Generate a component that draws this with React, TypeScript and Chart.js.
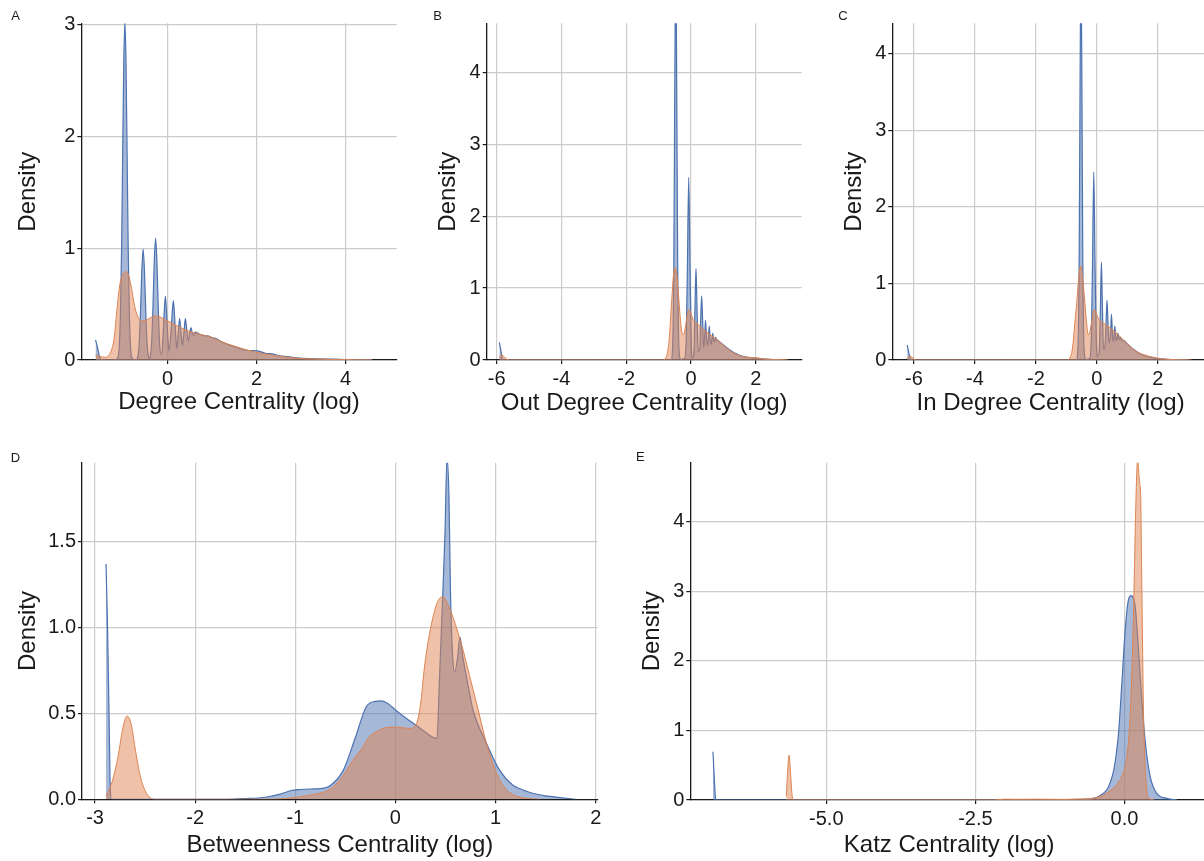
import React, { useEffect, useRef } from "react";
import { Chart, registerables } from "chart.js";

Chart.register(...registerables);

const BLUE = "#4c72b0";
const ORANGE = "#dd8452";
const BLUE_FILL = "rgba(76,114,176,0.5)";
const ORANGE_FILL = "rgba(221,132,82,0.5)";
const FONT = "'Liberation Sans', Arial, Helvetica, sans-serif";

// ---------- Panel A: Degree Centrality (log) ----------
const degreeBlue: [number, number][] = [
  [-1.62, 0.18], [-1.58, 0.12], [-1.53, 0.03], [-1.48, 0.0], [-1.35, 0.0], [-1.2, 0.0],
  [-1.12, 0.02], [-1.09, 0.1], [-1.06, 0.41], [-1.035, 0.98], [-1.01, 1.83], [-0.985, 2.66],
  [-0.96, 3.02], [-0.935, 2.66], [-0.91, 1.83], [-0.885, 0.98], [-0.86, 0.41], [-0.83, 0.1],
  [-0.8, 0.02], [-0.72, 0.0], [-0.67, 0.03], [-0.64, 0.14], [-0.61, 0.42], [-0.58, 0.8],
  [-0.55, 0.99], [-0.52, 0.8], [-0.49, 0.42], [-0.46, 0.14], [-0.43, 0.03], [-0.41, 0.01],
  [-0.39, 0.03], [-0.36, 0.15], [-0.33, 0.46], [-0.3, 0.88], [-0.27, 1.09], [-0.24, 0.88],
  [-0.21, 0.46], [-0.18, 0.15], [-0.15, 0.05], [-0.12, 0.1], [-0.09, 0.32], [-0.05, 0.57],
  [-0.01, 0.32], [0.03, 0.08], [0.08, 0.28], [0.13, 0.53], [0.17, 0.3], [0.21, 0.1],
  [0.24, 0.24], [0.27, 0.37], [0.3, 0.26], [0.335, 0.13], [0.37, 0.26], [0.4, 0.37],
  [0.43, 0.27], [0.465, 0.17], [0.5, 0.25], [0.525, 0.29], [0.555, 0.24], [0.585, 0.22],
  [0.62, 0.25], [0.7, 0.235], [0.8, 0.22], [0.9, 0.215], [1.0, 0.2], [1.1, 0.19],
  [1.2, 0.165], [1.35, 0.14], [1.5, 0.12], [1.65, 0.1], [1.8, 0.085], [1.95, 0.085],
  [2.05, 0.08], [2.2, 0.06], [2.35, 0.055], [2.5, 0.04], [2.7, 0.03], [2.9, 0.02],
  [3.2, 0.012], [3.6, 0.008], [3.75, 0.009], [4.0, 0.003], [4.4, 0.002], [4.6, 0.0],
];
const degreeOrange: [number, number][] = [
  [-1.62, 0.045], [-1.5, 0.03], [-1.41, 0.024], [-1.33, 0.04], [-1.26, 0.09], [-1.2, 0.2],
  [-1.16, 0.36], [-1.08, 0.66], [-1.0, 0.77], [-0.93, 0.79], [-0.87, 0.75], [-0.81, 0.64],
  [-0.75, 0.5], [-0.7, 0.42], [-0.64, 0.37], [-0.59, 0.35], [-0.5, 0.355], [-0.44, 0.365],
  [-0.35, 0.385], [-0.27, 0.394], [-0.17, 0.385], [-0.06, 0.36], [0.1, 0.33], [0.24, 0.3],
  [0.4, 0.27], [0.61, 0.24], [0.8, 0.222], [0.97, 0.205], [1.15, 0.175], [1.35, 0.143],
  [1.55, 0.118], [1.72, 0.096], [1.9, 0.078], [2.1, 0.06], [2.3, 0.047], [2.47, 0.036],
  [2.65, 0.027], [2.85, 0.018], [3.1, 0.012], [3.4, 0.008], [3.8, 0.004], [4.2, 0.002],
  [4.6, 0.0],
];
const degreeXTicks = [0, 2, 4];
const degreeXLabels = ["0", "2", "4"];
const degreeYTicks = [0, 1, 2, 3];
const degreeYLabels = ["0", "1", "2", "3"];

// ---------- Panel B: Out Degree Centrality (log) ----------
const outBlue: [number, number][] = [
  [-5.92, 0.245], [-5.88, 0.15], [-5.84, 0.05], [-5.8, 0.0], [-3.0, 0.0], [-0.62, 0.0],
  [-0.57, 0.15], [-0.53, 1.3], [-0.5, 3.8], [-0.47, 5.6], [-0.44, 3.8], [-0.41, 1.3],
  [-0.37, 0.15], [-0.32, 0.01], [-0.2, 0.02], [-0.15, 0.25], [-0.11, 1.3], [-0.07, 2.54],
  [-0.03, 1.3], [0.01, 0.25], [0.05, 0.03], [0.09, 0.1], [0.125, 0.75], [0.155, 1.27],
  [0.185, 0.75], [0.22, 0.12], [0.27, 0.15], [0.3, 0.55], [0.33, 0.89], [0.36, 0.55],
  [0.39, 0.17], [0.42, 0.3], [0.45, 0.555], [0.48, 0.3], [0.51, 0.2], [0.54, 0.3],
  [0.565, 0.47], [0.59, 0.3], [0.62, 0.22], [0.645, 0.28], [0.67, 0.37], [0.7, 0.28],
  [0.725, 0.25], [0.745, 0.29], [0.765, 0.315], [0.79, 0.28], [0.85, 0.265], [1.0, 0.21],
  [1.2, 0.14], [1.4, 0.085], [1.6, 0.05], [1.8, 0.035], [2.0, 0.025], [2.3, 0.012],
  [2.6, 0.005], [2.9, 0.0],
];
const outOrange: [number, number][] = [
  [-5.92, 0.03], [-5.86, 0.07], [-5.78, 0.05], [-5.7, 0.015], [-5.6, 0.0], [-3.0, 0.0],
  [-0.85, 0.0], [-0.78, 0.03], [-0.72, 0.12], [-0.67, 0.3], [-0.6, 0.79], [-0.54, 1.18],
  [-0.49, 1.29], [-0.44, 1.18], [-0.39, 0.93], [-0.33, 0.58], [-0.27, 0.37], [-0.22, 0.36],
  [-0.15, 0.52], [-0.1, 0.66], [-0.06, 0.7], [-0.02, 0.67], [0.07, 0.56], [0.23, 0.49],
  [0.48, 0.39], [0.79, 0.29], [1.1, 0.165], [1.41, 0.075], [1.7, 0.04], [2.0, 0.03],
  [2.3, 0.014], [2.6, 0.006], [3.0, 0.0],
];
const outXTicks = [-6, -4, -2, 0, 2];
const outXLabels = ["-6", "-4", "-2", "0", "2"];
const outYTicks = [0, 1, 2, 3, 4];
const outYLabels = ["0", "1", "2", "3", "4"];

// ---------- Panel C: In Degree Centrality (log) ----------
const inBlue: [number, number][] = [
  [-6.22, 0.196], [-6.17, 0.1], [-6.12, 0.02], [-6.05, 0.0], [-3.0, 0.0], [-0.68, 0.0],
  [-0.62, 0.15], [-0.58, 1.3], [-0.55, 3.6], [-0.52, 5.2], [-0.49, 3.6], [-0.46, 1.3],
  [-0.42, 0.15], [-0.36, 0.01], [-0.24, 0.02], [-0.18, 0.3], [-0.14, 1.3], [-0.1, 2.46],
  [-0.06, 1.3], [-0.02, 0.3], [0.03, 0.05], [0.08, 0.12], [0.12, 0.75], [0.15, 1.28],
  [0.18, 0.75], [0.22, 0.14], [0.27, 0.2], [0.305, 0.5], [0.335, 0.78], [0.365, 0.5],
  [0.4, 0.22], [0.45, 0.35], [0.48, 0.6], [0.51, 0.35], [0.54, 0.24], [0.565, 0.3],
  [0.59, 0.444], [0.62, 0.3], [0.645, 0.25], [0.67, 0.3], [0.69, 0.35], [0.715, 0.29],
  [0.745, 0.27], [0.77, 0.3], [0.8, 0.27], [0.9, 0.25], [1.0, 0.21], [1.2, 0.14],
  [1.4, 0.085], [1.6, 0.055], [1.8, 0.035], [2.0, 0.02], [2.3, 0.01], [2.6, 0.004],
  [3.0, 0.0],
];
const inOrange: [number, number][] = [
  [-6.22, 0.02], [-6.15, 0.05], [-6.07, 0.04], [-6.0, 0.01], [-5.9, 0.0], [-3.0, 0.0],
  [-0.95, 0.0], [-0.88, 0.03], [-0.82, 0.1], [-0.77, 0.26], [-0.7, 0.58], [-0.66, 0.74],
  [-0.6, 1.05], [-0.53, 1.23], [-0.47, 1.08], [-0.41, 0.83], [-0.34, 0.5], [-0.28, 0.33],
  [-0.22, 0.38], [-0.17, 0.5], [-0.08, 0.66], [-0.03, 0.62], [0.05, 0.545], [0.32, 0.457],
  [0.65, 0.35], [0.98, 0.218], [1.31, 0.109], [1.75, 0.044], [2.29, 0.01], [2.7, 0.003],
  [3.1, 0.0],
];
const inXTicks = [-6, -4, -2, 0, 2];
const inXLabels = ["-6", "-4", "-2", "0", "2"];
const inYTicks = [0, 1, 2, 3, 4];
const inYLabels = ["0", "1", "2", "3", "4"];

// ---------- Panel D: Betweenness Centrality (log) ----------
const betweenBlue: [number, number][] = [
  [-2.89, 1.37], [-2.875, 1.0], [-2.86, 0.5], [-2.85, 0.12], [-2.84, 0.0], [-1.7, 0.0],
  [-1.5, 0.004], [-1.3, 0.012], [-1.15, 0.03], [-1.05, 0.05], [-0.95, 0.057], [-0.85, 0.06],
  [-0.75, 0.062], [-0.65, 0.08], [-0.52, 0.17], [-0.4, 0.36], [-0.29, 0.54], [-0.2, 0.57],
  [-0.14, 0.573], [-0.07, 0.555], [0.0, 0.52], [0.1, 0.475], [0.21, 0.43], [0.3, 0.39],
  [0.38, 0.36], [0.415, 0.355], [0.44, 0.7], [0.47, 1.15], [0.495, 1.55], [0.515, 1.99],
  [0.535, 1.75], [0.55, 1.2], [0.57, 0.85], [0.59, 0.74], [0.62, 0.82], [0.645, 0.945],
  [0.67, 0.84], [0.72, 0.68], [0.775, 0.52], [0.91, 0.325], [1.04, 0.17], [1.17, 0.083],
  [1.25, 0.06], [1.37, 0.035], [1.5, 0.02], [1.64, 0.01], [1.8, 0.0],
];
const betweenOrange: [number, number][] = [
  [-2.89, 0.02], [-2.83, 0.1], [-2.77, 0.25], [-2.72, 0.42], [-2.68, 0.485], [-2.64, 0.44],
  [-2.6, 0.3], [-2.55, 0.14], [-2.5, 0.05], [-2.45, 0.01], [-2.4, 0.0], [-1.3, 0.0],
  [-1.1, 0.004], [-0.95, 0.015], [-0.8, 0.03], [-0.7, 0.045], [-0.62, 0.073], [-0.52, 0.14],
  [-0.42, 0.23], [-0.33, 0.3], [-0.26, 0.364], [-0.17, 0.4], [-0.09, 0.418], [0.0, 0.42],
  [0.14, 0.413], [0.21, 0.44], [0.25, 0.55], [0.29, 0.77], [0.33, 0.93], [0.375, 1.06],
  [0.42, 1.15], [0.475, 1.18], [0.52, 1.14], [0.575, 1.06], [0.625, 0.97], [0.675, 0.87],
  [0.74, 0.72], [0.81, 0.56], [0.91, 0.325], [1.01, 0.15], [1.11, 0.054], [1.2, 0.02],
  [1.31, 0.005], [1.45, 0.0],
];
const betweenXTicks = [-3, -2, -1, 0, 1, 2];
const betweenXLabels = ["-3", "-2", "-1", "0", "1", "2"];
const betweenYTicks = [0, 0.5, 1, 1.5];
const betweenYLabels = ["0.0", "0.5", "1.0", "1.5"];

// ---------- Panel E: Katz Centrality (log) ----------
const katzBlue: [number, number][] = [
  [-6.9, 0.695], [-6.88, 0.35], [-6.86, 0.05], [-6.85, 0.0], [-3.0, 0.0], [-0.8, 0.0],
  [-0.52, 0.02], [-0.4, 0.07], [-0.3, 0.144], [-0.24, 0.25], [-0.18, 0.43], [-0.14, 0.65],
  [-0.1, 0.96], [-0.044, 1.68], [0.012, 2.45], [0.067, 2.88], [0.112, 2.94], [0.15, 2.9],
  [0.18, 2.78], [0.235, 2.16], [0.29, 1.44], [0.35, 0.82], [0.43, 0.34], [0.54, 0.096],
  [0.71, 0.024], [0.88, 0.0],
];
const katzOrange: [number, number][] = [
  [-5.67, 0.05], [-5.645, 0.45], [-5.625, 0.647], [-5.6, 0.4], [-5.575, 0.08], [-5.55, 0.0],
  [-2.2, 0.0], [-2.0, 0.012], [-1.8, 0.01], [-1.5, 0.012], [-1.2, 0.01], [-1.0, 0.008],
  [-0.8, 0.015], [-0.6, 0.02], [-0.45, 0.04], [-0.35, 0.072], [-0.25, 0.13], [-0.156, 0.19],
  [-0.1, 0.26], [-0.044, 0.34], [0.04, 0.62], [0.08, 1.0], [0.107, 1.44], [0.15, 2.64],
  [0.185, 4.08], [0.21, 4.8], [0.222, 4.9], [0.235, 4.75], [0.255, 4.55], [0.27, 4.41],
  [0.29, 3.12], [0.32, 1.2], [0.364, 0.24], [0.42, 0.02], [0.5, 0.0],
];
const katzXTicks = [-5, -2.5, 0];
const katzXLabels = ["-5.0", "-2.5", "0.0"];
const katzYTicks = [0, 1, 2, 3, 4];
const katzYLabels = ["0", "1", "2", "3", "4"];

type Rect = { left: number; top: number; width: number; height: number };
type PlotBox = { left: number; top: number; right: number; bottom: number };

type PanelSpec = {
  letter: string;
  letterX: number;
  letterY: number;
  canvas: Rect;
  plot: PlotBox;
  xMin: number;
  xMax: number;
  yMin: number;
  yMax: number;
  xTicks: number[];
  xLabels: string[];
  yTicks: number[];
  yLabels: string[];
  xTitle: string;
  yTitleX: number;
  xTitleY: number;
  blue: [number, number][];
  orange: [number, number][];
};

const panels: PanelSpec[] = [
  {
    letter: "A", letterX: 15.5, letterY: 15,
    canvas: { left: 0, top: 0, width: 402, height: 432 },
    plot: { left: 81.3, top: 23.3, right: 396.7, bottom: 360 },
    xMin: -1.94, xMax: 5.15, yMin: 0, yMax: 3.01,
    xTicks: degreeXTicks, xLabels: degreeXLabels, yTicks: degreeYTicks, yLabels: degreeYLabels,
    xTitle: "Degree Centrality (log)", yTitleX: 28.8, xTitleY: 402,
    blue: degreeBlue, orange: degreeOrange,
  },
  {
    letter: "B", letterX: 437.7, letterY: 15.3,
    canvas: { left: 404, top: 0, width: 404, height: 432 },
    plot: { left: 486.7, top: 23.3, right: 801.7, bottom: 360 },
    xMin: -6.31, xMax: 3.42, yMin: 0, yMax: 4.68,
    xTicks: outXTicks, xLabels: outXLabels, yTicks: outYTicks, yLabels: outYLabels,
    xTitle: "Out Degree Centrality (log)", yTitleX: 448.5, xTitleY: 403,
    blue: outBlue, orange: outOrange,
  },
  {
    letter: "C", letterX: 843, letterY: 15,
    canvas: { left: 810, top: 0, width: 410, height: 432 },
    plot: { left: 892.3, top: 23.3, right: 1209, bottom: 360 },
    xMin: -6.71, xMax: 3.68, yMin: 0, yMax: 4.4,
    xTicks: inXTicks, xLabels: inXLabels, yTicks: inYTicks, yLabels: inYLabels,
    xTitle: "In Degree Centrality (log)", yTitleX: 854.7, xTitleY: 403,
    blue: inBlue, orange: inOrange,
  },
  {
    letter: "D", letterX: 15.5, letterY: 457,
    canvas: { left: 0, top: 440, width: 612, height: 421 },
    plot: { left: 82, top: 462.7, right: 597.7, bottom: 799.3 },
    xMin: -3.13, xMax: 2.02, yMin: 0, yMax: 1.96,
    xTicks: betweenXTicks, xLabels: betweenXLabels, yTicks: betweenYTicks, yLabels: betweenYLabels,
    xTitle: "Betweenness Centrality (log)", yTitleX: 28.5, xTitleY: 845,
    blue: betweenBlue, orange: betweenOrange,
  },
  {
    letter: "E", letterX: 640.3, letterY: 456,
    canvas: { left: 614, top: 440, width: 610, height: 421 },
    plot: { left: 690.3, top: 462.7, right: 1208, bottom: 800 },
    xMin: -7.28, xMax: 1.4, yMin: 0, yMax: 4.85,
    xTicks: katzXTicks, xLabels: katzXLabels, yTicks: katzYTicks, yLabels: katzYLabels,
    xTitle: "Katz Centrality (log)", yTitleX: 652, xTitleY: 845,
    blue: katzBlue, orange: katzOrange,
  },
];

const TICK_FONT = { family: FONT, size: 20 };
const TITLE_FONT = { family: FONT, size: 24, lineHeight: 1 };
const GRID_COLOR = "#cccccc";
const AXIS_COLOR = "#1a1a1a";
const TEXT_COLOR = "#1a1a1a";

function PanelChart({ spec }: { spec: PanelSpec }) {
  const ref = useRef<HTMLCanvasElement | null>(null);
  useEffect(() => {
    if (!ref.current) return;
    const { canvas, plot } = spec;
    const yAxisWidth = plot.left - canvas.left;
    const xAxisHeight = canvas.top + canvas.height - plot.bottom;
    const padTop = plot.top - canvas.top;
    const padRight = canvas.left + canvas.width - plot.right;
    const yTitlePad = spec.yTitleX - canvas.left - 12;
    const xTitlePad = canvas.top + canvas.height - spec.xTitleY - 12;

    const chart = new Chart(ref.current, {
      type: "line",
      data: {
        datasets: [
          {
            label: "Group 1",
            data: spec.blue.map(([x, y]) => ({ x, y })),
            borderColor: BLUE,
            backgroundColor: BLUE_FILL,
            borderWidth: 1.2,
            fill: "origin",
            pointRadius: 0,
            cubicInterpolationMode: "monotone",
            order: 2,
          },
          {
            label: "Group 2",
            data: spec.orange.map(([x, y]) => ({ x, y })),
            borderColor: ORANGE,
            backgroundColor: ORANGE_FILL,
            borderWidth: 1.0,
            fill: "origin",
            pointRadius: 0,
            cubicInterpolationMode: "monotone",
            order: 1,
          },
        ],
      },
      options: {
        animation: false,
        responsive: false,
        maintainAspectRatio: false,
        devicePixelRatio: 1,
        events: [],
        layout: { padding: { left: 0, top: padTop, right: padRight, bottom: 0 } },
        plugins: { legend: { display: false }, tooltip: { enabled: false } },
        scales: {
          x: {
            type: "linear",
            min: spec.xMin,
            max: spec.xMax,
            afterBuildTicks: (s: any) => {
              s.ticks = spec.xTicks.map((v) => ({ value: v }));
            },
            afterFit: (s: any) => {
              s.height = xAxisHeight;
              s.paddingLeft = 0;
              s.paddingRight = 0;
            },
            ticks: {
              callback: (v: any) => spec.xLabels[spec.xTicks.indexOf(Number(v))] ?? "",
              font: TICK_FONT,
              color: TEXT_COLOR,
              padding: 3,
              maxRotation: 0,
              autoSkip: false,
            },
            grid: { color: GRID_COLOR, lineWidth: 1.2, tickColor: AXIS_COLOR, tickLength: 4, drawTicks: true },
            border: { color: AXIS_COLOR, width: 1.3 },
            title: {
              display: true,
              text: spec.xTitle,
              font: TITLE_FONT,
              color: TEXT_COLOR,
              padding: { top: 0, bottom: xTitlePad },
            },
          },
          y: {
            type: "linear",
            min: spec.yMin,
            max: spec.yMax,
            afterBuildTicks: (s: any) => {
              s.ticks = spec.yTicks.map((v) => ({ value: v }));
            },
            afterFit: (s: any) => {
              s.width = yAxisWidth;
              s.paddingTop = 0;
              s.paddingBottom = 0;
            },
            ticks: {
              callback: (v: any) => spec.yLabels[spec.yTicks.indexOf(Number(v))] ?? "",
              font: TICK_FONT,
              color: TEXT_COLOR,
              padding: 2,
              autoSkip: false,
            },
            grid: { color: GRID_COLOR, lineWidth: 1.2, tickColor: AXIS_COLOR, tickLength: 4, drawTicks: true },
            border: { color: AXIS_COLOR, width: 1.3 },
            title: {
              display: true,
              text: "Density",
              font: TITLE_FONT,
              color: TEXT_COLOR,
              padding: { top: yTitlePad, bottom: 0 },
            },
          },
        },
      },
    } as any);
    return () => chart.destroy();
  }, [spec]);

  const { canvas } = spec;
  return (
    <>
      <canvas
        ref={ref}
        width={canvas.width}
        height={canvas.height}
        style={{
          position: "absolute",
          left: canvas.left,
          top: canvas.top,
          width: canvas.width,
          height: canvas.height,
          display: "block",
        }}
      />
      <div
        style={{
          position: "absolute",
          left: spec.letterX - 10,
          top: spec.letterY - 6.4,
          width: 20,
          textAlign: "center",
          fontFamily: FONT,
          fontSize: 13,
          lineHeight: "13px",
          color: TEXT_COLOR,
        }}
      >
        {spec.letter}
      </div>
    </>
  );
}

export default function App() {
  return (
    <div
      style={{
        position: "absolute",
        left: 0,
        top: 0,
        width: 1204,
        height: 861,
        overflow: "hidden",
        background: "#ffffff",
      }}
    >
      {panels.map((p) => (
        <PanelChart key={p.letter} spec={p} />
      ))}
    </div>
  );
}
